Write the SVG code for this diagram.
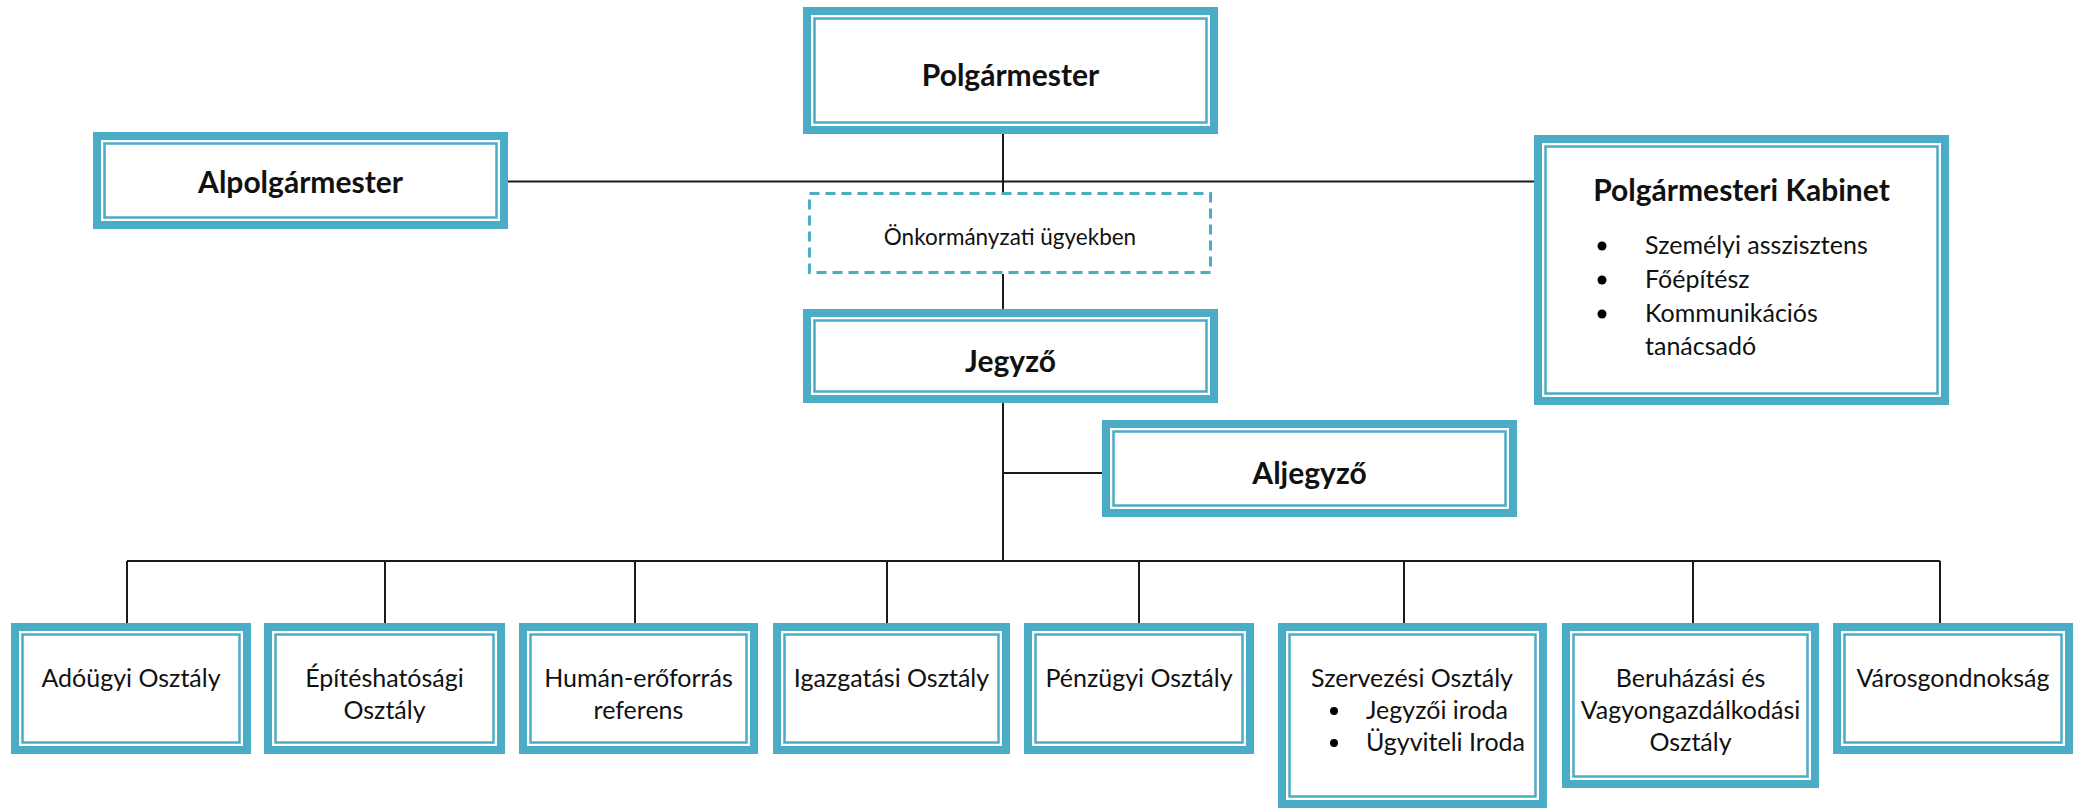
<svg xmlns="http://www.w3.org/2000/svg" width="2080" height="808" viewBox="0 0 2080 808">
<style>
.o{fill:#fff;stroke:#4BACC6;stroke-width:8}
.i{fill:none;stroke:#4BACC6;stroke-width:2.5}
.d{fill:#fff;stroke:#4BACC6;stroke-width:3;stroke-dasharray:10 6}
.c{fill:none;stroke:#1a1a1a;stroke-width:2}
.h{font-family:Lato,"Open Sans","Liberation Sans",sans-serif;font-weight:bold;font-size:30px;fill:#111;text-anchor:middle}
.t{font-family:Lato,"Open Sans","Liberation Sans",sans-serif;font-size:25px;fill:#111;text-anchor:middle}
.l{font-family:Lato,"Open Sans","Liberation Sans",sans-serif;font-size:25px;fill:#111}
.s{font-family:Lato,"Open Sans","Liberation Sans",sans-serif;font-size:22.5px;fill:#111;text-anchor:middle}
.b{fill:#000}
</style>
<rect width="2080" height="808" fill="#fff"/>
<g id="connectors">
<path class="c" d="M508 181.5H1534"/>
<path class="c" d="M1003 134V192"/>
<path class="c" d="M1003 274V309"/>
<path class="c" d="M1003 403V561"/>
<path class="c" d="M1003 473H1102"/>
<path class="c" d="M127 561H1940"/>
<path class="c" d="M127 561V623M385 561V623M635 561V623M887 561V623M1139 561V623M1404 561V623M1693 561V623M1940 561V623"/>
</g>
<g id="polgarmester">
<rect class="o" x="807" y="11" width="407" height="119"/>
<rect class="i" x="814.5" y="18.5" width="392" height="104"/>
<text class="h" x="1010.5" y="86">Polgármester</text>
</g>
<g id="alpolgarmester">
<rect class="o" x="97" y="136" width="407" height="89"/>
<rect class="i" x="104.5" y="143.5" width="392" height="74"/>
<text class="h" x="300.5" y="193">Alpolgármester</text>
</g>
<g id="kabinet">
<rect class="o" x="1538" y="139" width="407" height="262"/>
<rect class="i" x="1545.5" y="146.5" width="392" height="247"/>
<text class="h" x="1741.5" y="201">Polgármesteri Kabinet</text>
<circle class="b" cx="1602" cy="246" r="4.5"/>
<circle class="b" cx="1602" cy="280" r="4.5"/>
<circle class="b" cx="1602" cy="314" r="4.5"/>
<text class="l" x="1645" y="254">Személyi asszisztens</text>
<text class="l" x="1645" y="288">Főépítész</text>
<text class="l" x="1645" y="322">Kommunikációs</text>
<text class="l" x="1645" y="355">tanácsadó</text>
</g>
<g id="onkormanyzati">
<rect class="d" x="809.5" y="193.5" width="401" height="79"/>
<text class="s" x="1010" y="245">Önkormányzati ügyekben</text>
</g>
<g id="jegyzo">
<rect class="o" x="807" y="313" width="407" height="86"/>
<rect class="i" x="814.5" y="320.5" width="392" height="71"/>
<text class="h" x="1010.5" y="372">Jegyző</text>
</g>
<g id="aljegyzo">
<rect class="o" x="1106" y="424" width="407" height="89"/>
<rect class="i" x="1113.5" y="431.5" width="392" height="74"/>
<text class="h" x="1309.5" y="484">Aljegyző</text>
</g>
<g id="adougyi">
<rect class="o" x="15" y="627" width="232" height="123"/>
<rect class="i" x="22.5" y="634.5" width="217" height="108"/>
<text class="t" x="131" y="687">Adóügyi Osztály</text>
</g>
<g id="epiteshatosagi">
<rect class="o" x="268" y="627" width="233" height="123"/>
<rect class="i" x="275.5" y="634.5" width="218" height="108"/>
<text class="t" x="384.5" y="687">Építéshatósági</text>
<text class="t" x="384.5" y="719">Osztály</text>
</g>
<g id="human">
<rect class="o" x="523" y="627" width="231" height="123"/>
<rect class="i" x="530.5" y="634.5" width="216" height="108"/>
<text class="t" x="638.5" y="687">Humán-erőforrás</text>
<text class="t" x="638.5" y="719">referens</text>
</g>
<g id="igazgatasi">
<rect class="o" x="777" y="627" width="229" height="123"/>
<rect class="i" x="784.5" y="634.5" width="214" height="108"/>
<text class="t" x="891.5" y="687">Igazgatási Osztály</text>
</g>
<g id="penzugyi">
<rect class="o" x="1028" y="627" width="222" height="123"/>
<rect class="i" x="1035.5" y="634.5" width="207" height="108"/>
<text class="t" x="1139" y="687">Pénzügyi Osztály</text>
</g>
<g id="szervezesi">
<rect class="o" x="1282" y="627" width="261" height="177"/>
<rect class="i" x="1289.5" y="634.5" width="246" height="162"/>
<text class="t" x="1412" y="687">Szervezési Osztály</text>
<circle class="b" cx="1334" cy="711" r="4"/>
<circle class="b" cx="1334" cy="743" r="4"/>
<text class="l" x="1366" y="719">Jegyzői iroda</text>
<text class="l" x="1366" y="751">Ügyviteli Iroda</text>
</g>
<g id="beruhazasi">
<rect class="o" x="1566" y="627" width="249" height="157"/>
<rect class="i" x="1573.5" y="634.5" width="234" height="142"/>
<text class="t" x="1690.5" y="687">Beruházási és</text>
<text class="t" x="1690.5" y="719">Vagyongazdálkodási</text>
<text class="t" x="1690.5" y="751">Osztály</text>
</g>
<g id="varosgondnoksag">
<rect class="o" x="1837" y="627" width="232" height="123"/>
<rect class="i" x="1844.5" y="634.5" width="217" height="108"/>
<text class="t" x="1953" y="687">Városgondnokság</text>
</g>
</svg>
